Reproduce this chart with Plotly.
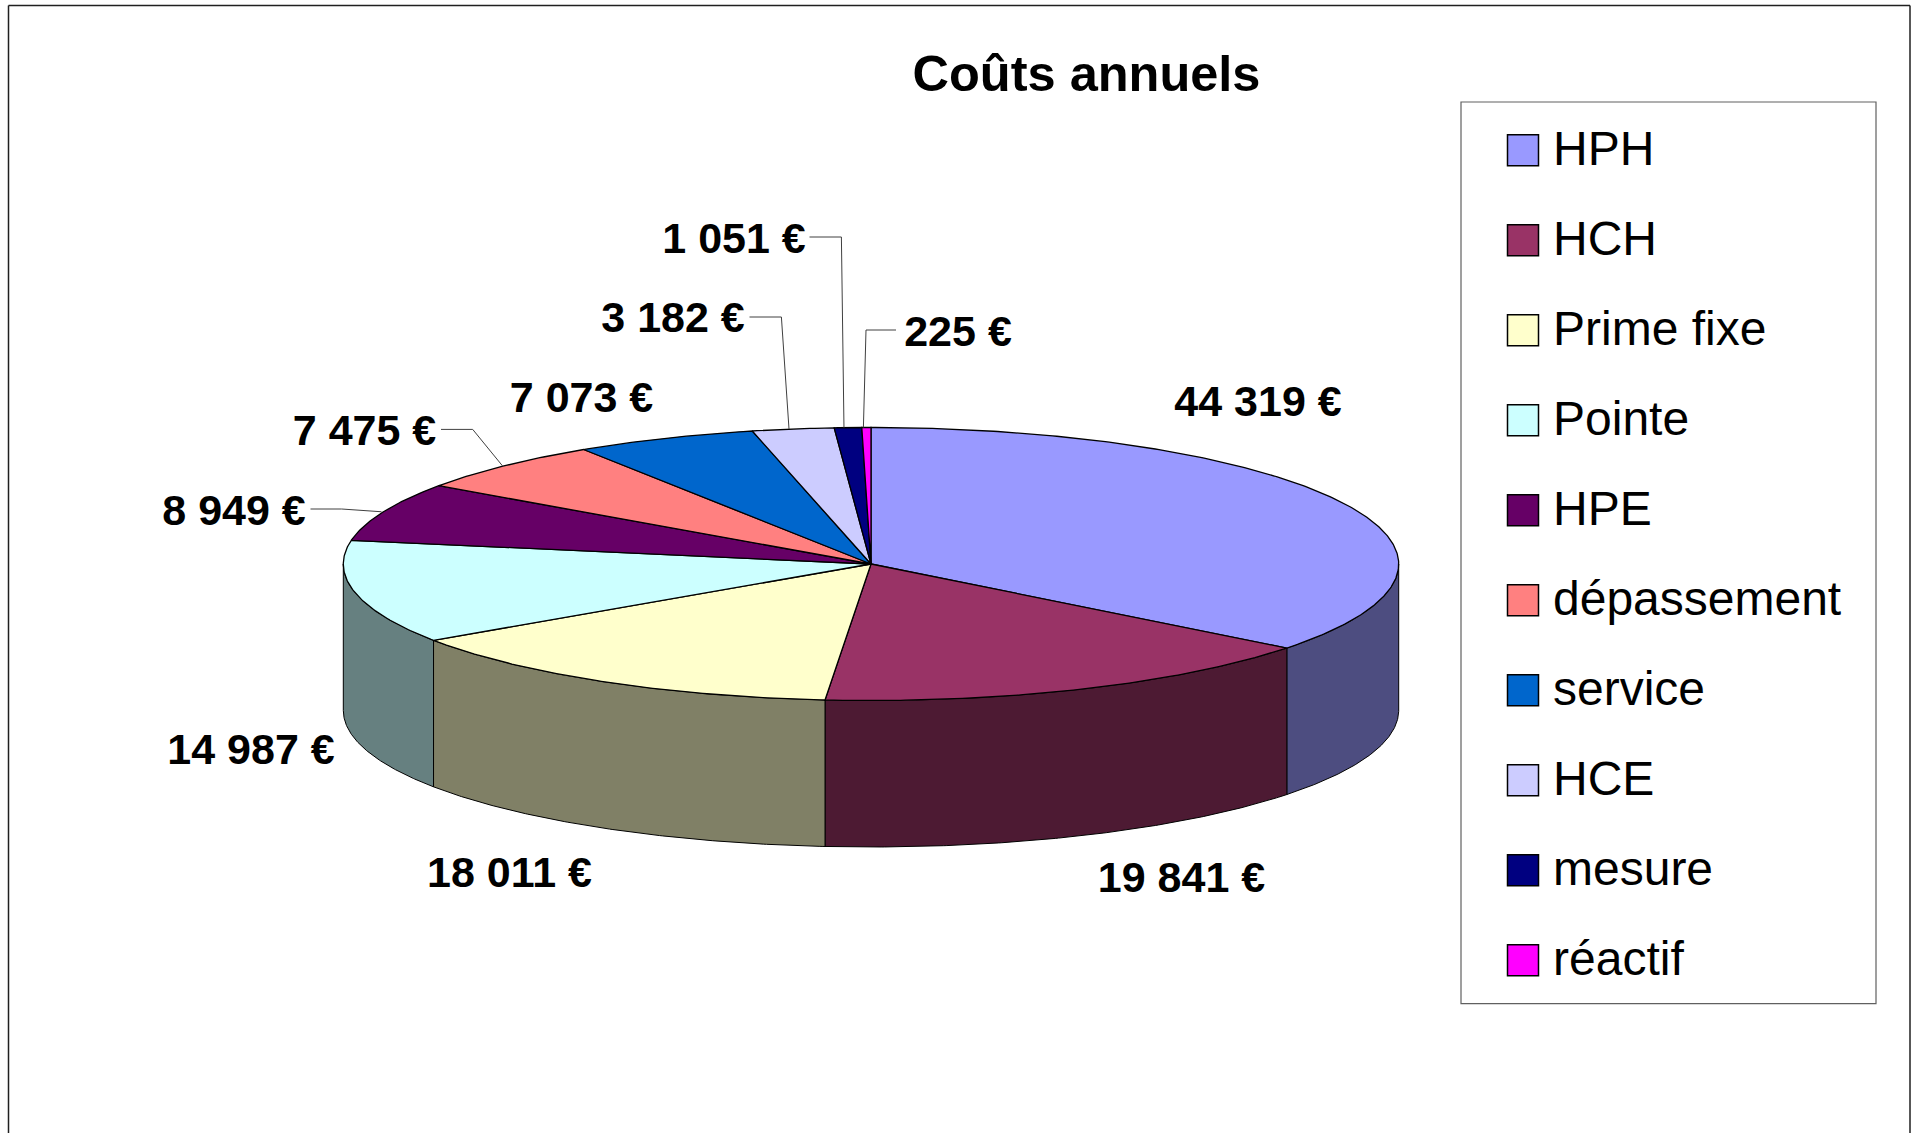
import numpy as np
import plotly.graph_objects as go

# ---- data ----
categories = ["HPH", "HCH", "Prime fixe", "Pointe", "HPE", "dépassement",
              "service", "HCE", "mesure", "réactif"]
values = [44319, 19841, 18011, 14987, 8949, 7475, 7073, 3182, 1051, 225]
top_colors = ["#9999FF", "#993366", "#FFFFCC", "#CCFFFF", "#660066", "#FF8080",
              "#0066CC", "#CCCCFF", "#000080", "#FF00FF"]
side_colors = ["#4D4D80", "#4D1A33", "#808066", "#668080", "#330033", "#804040",
               "#003366", "#666680", "#000040", "#800080"]
title = "Coûts annuels"

# ---- layout constants (pixel space of the page) ----
W, H = 1912, 1133
CX, CY, RX, RY, DEPTH = 871.0, 564.0, 527.7, 136.5, 146.5
FONT = "Liberation Sans"
label_x = [1258, 1181.5, 509.5, 251, 234, 364.5, 581.5, 673, 734, 958]
label_y = [405.5, 881.5, 876.5, 753.5, 514.5, 434, 401, 321.5, 242.5, 335.5]
# leader elbows: index -> (text-side x, elbow x, y, nudge of the end on the rim)
leaders = {4: (310.5, 341.7, 509, -2), 5: (441, 472.7, 429.4, -2), 7: (749.5, 781.4, 317, -4),
           8: (809.5, 841.4, 237, -4), 9: (896, 866, 330, -3)}
LEG_X0, LEG_X1, LEG_Y0, LEG_Y1 = 1461, 1876, 102, 1003.6
SW_X, TXT_X, LEG_FIRST, LEG_STEP = 1523, 1553, 150.3, 90.0
LEG_TXT_DY = 2.5


def label(v):
    return f"{v:,}".replace(",", " ") + " €"


def ell(t, dy=0.0):
    return CX + RX * np.sin(t), CY - RY * np.cos(t) + dy


vals = np.array(values, dtype=float)
# the source chart snaps slice boundaries to whole degrees
edges = np.radians(np.round(np.concatenate([[0], np.cumsum(vals)]) / vals.sum() * 360))

fig = go.Figure()

# front wall pieces (only the part between 90° and 270° is visible)
for i in range(len(vals)):
    a, b = max(edges[i], np.pi / 2), min(edges[i + 1], 3 * np.pi / 2)
    if b <= a:
        continue
    t = np.linspace(a, b, 160)
    x1, y1 = ell(t)
    x2, y2 = ell(t[::-1], DEPTH)
    fig.add_trace(go.Scatter(
        x=np.r_[x1, x2, x1[0]], y=np.r_[y1, y2, y1[0]], mode="lines", fill="toself",
        fillcolor=side_colors[i], line=dict(color="#000000", width=1),
        name=categories[i] + " (side)", hoverinfo="skip", showlegend=False))

# top slices
for i in range(len(vals)):
    n = max(8, int((edges[i + 1] - edges[i]) * 120))
    t = np.linspace(edges[i], edges[i + 1], n)
    x, y = ell(t)
    fig.add_trace(go.Scatter(
        x=np.r_[CX, x, CX], y=np.r_[CY, y, CY], mode="lines", fill="toself",
        fillcolor=top_colors[i], line=dict(color="#000000", width=1.3),
        name=categories[i], text=[label(values[i])] * (n + 2), hoverinfo="name+text",
        showlegend=False))

# leader lines, ending on each slice's mid-angle
mid = (edges[:-1] + edges[1:]) / 2
for i, (xa, xb, yl, nudge) in leaders.items():
    ex, ey = ell(mid[i])
    fig.add_trace(go.Scatter(x=[xa, xb, ex + nudge], y=[yl, yl, ey], mode="lines",
                             line=dict(color="#404040", width=1),
                             hoverinfo="skip", showlegend=False))

# data labels
fig.add_trace(go.Scatter(
    x=label_x, y=label_y, mode="text", text=[label(v) for v in values],
    textposition="middle center",
    textfont=dict(family=FONT, size=43, color="#000000", weight="bold"),
    hoverinfo="skip", showlegend=False))

# legend
leg_y = [LEG_FIRST + LEG_STEP * k for k in range(len(categories))]
fig.add_trace(go.Scatter(
    x=[SW_X] * len(categories), y=leg_y, mode="markers",
    marker=dict(symbol="square", size=31, color=top_colors,
                line=dict(color="#000000", width=1.5)),
    hoverinfo="skip", showlegend=False))
fig.add_trace(go.Scatter(
    x=[TXT_X] * len(categories), y=[v + LEG_TXT_DY for v in leg_y], mode="text", text=categories,
    textposition="middle right",
    textfont=dict(family=FONT, size=48, color="#000000"),
    hoverinfo="skip", showlegend=False))

shapes = [
    dict(type="rect", xref="x", yref="y", x0=LEG_X0, x1=LEG_X1, y0=LEG_Y0, y1=LEG_Y1,
         line=dict(color="#606060", width=1.2), layer="below"),
    dict(type="line", xref="x", yref="y", x0=8.5, x1=1910, y0=5.5, y1=5.5,
         line=dict(color="#202020", width=1.5)),
    dict(type="line", xref="x", yref="y", x0=8.5, x1=8.5, y0=5.5, y1=H,
         line=dict(color="#202020", width=1.5)),
    dict(type="line", xref="x", yref="y", x0=1910, x1=1910, y0=5.5, y1=H,
         line=dict(color="#202020", width=1.5)),
]

fig.update_layout(
    width=W, height=H, autosize=False,
    margin=dict(l=0, r=0, t=0, b=0),
    paper_bgcolor="#FFFFFF", plot_bgcolor="#FFFFFF",
    showlegend=False, shapes=shapes,
    title=dict(text=f"<b>{title}</b>", x=1086.5 / W, xref="paper", xanchor="center",
               y=1 - 73 / H, yref="paper", yanchor="middle",
               font=dict(family=FONT, size=50.5, color="#000000")),
    xaxis=dict(range=[0, W], visible=False, fixedrange=True),
    yaxis=dict(range=[H, 0], visible=False, fixedrange=True),
)

fig.write_html("out.html", config={"displayModeBar": False},
               post_script="document.body.style.margin='0';document.body.style.overflow='hidden';")
